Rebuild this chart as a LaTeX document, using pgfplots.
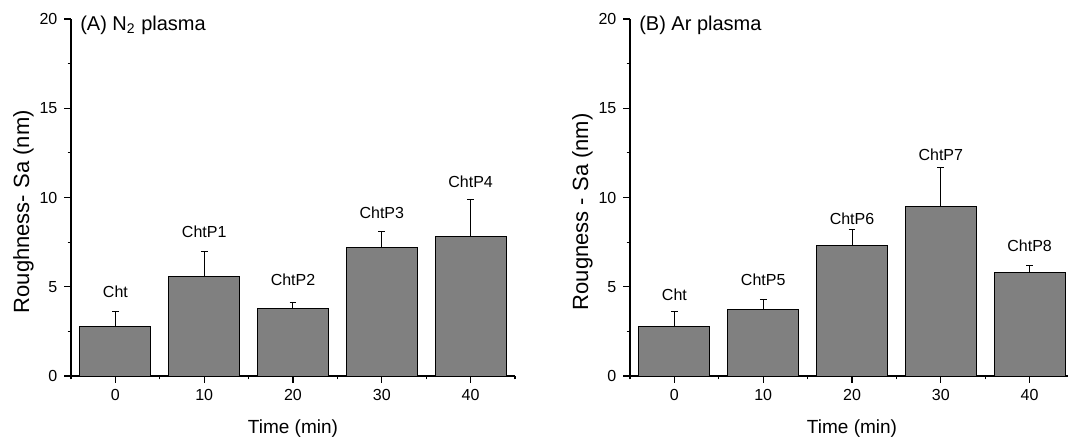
\documentclass[border=0pt]{standalone}
\usepackage{pgfplots}
\pgfplotsset{compat=1.18}
\usepackage{fontspec}
\setmainfont{Liberation Sans}

\pgfplotsset{
 roughax/.style={
  scale only axis, width=222pt, height=178.5pt,
  ymin=0, ymax=20, xmin=-0.5, xmax=4.5,
  axis x line*=bottom, axis y line*=left,
  axis line style={line width=0.6pt,-},
  xtick={0,1,2,3,4}, xticklabels={0,10,20,30,40},
  minor xtick={-0.5,0.5,1.5,2.5,3.5,4.5},
  ytick={0,5,10,15,20}, minor ytick={2.5,7.5,12.5,17.5},
  tick align=outside, major tick length=3.3pt, minor tick length=1.7pt,
  every tick/.style={black, line width=0.6pt},
  tick label style={font=\fontsize{8}{9.6}\selectfont},
  /pgf/number format/assume math mode=true,
  ybar, bar width=0.8, clip=false,
  xlabel={Time (min)},
  xlabel style={at={(axis description cs:0.5,-0.148)},anchor=center,font=\fontsize{9.5}{11}\selectfont},
  ylabel style={at={(axis description cs:-0.107,0.46)},anchor=center,font=\fontsize{11}{13}\selectfont},
 },
 barstyle/.style={fill=gray, draw=black, line width=0.5pt,
  error bars/.cd, y dir=plus, y explicit,
  error mark=|,
  error bar style={line width=0.5pt, black},
  error mark options={mark size=1.7pt, line width=0.5pt, black}},
}
\tikzset{lab/.style={font=\fontsize{8}{9.6}\selectfont},
 ttl/.style={anchor=west,inner sep=0pt,font=\fontsize{10}{12}\selectfont}}

\begin{document}
\begin{tikzpicture}
\useasboundingbox (0,0) rectangle (534pt,220.5pt);
\begin{axis}[roughax, at={(35.5pt,32.5pt)}, anchor=south west,
  ylabel={Roughness- Sa (nm)}]
\addplot[barstyle] coordinates {
 (0,2.8) +- (0,0.8)
 (1,5.6) +- (0,1.4)
 (2,3.8) +- (0,0.3)
 (3,7.2) +- (0,0.9)
 (4,7.8) +- (0,2.1)
};
\node[lab] at (axis cs:0,4.7) {Cht};
\node[lab] at (axis cs:1,8.07) {ChtP1};
\node[lab] at (axis cs:2,5.4) {ChtP2};
\node[lab] at (axis cs:3,9.15) {ChtP3};
\node[lab] at (axis cs:4,10.9) {ChtP4};
\node[ttl] at (rel axis cs:0.02,0.983) {(A) N\textsubscript{2} plasma};
\end{axis}
\begin{axis}[roughax, at={(315pt,32.5pt)}, anchor=south west,
  ylabel={Rougness - Sa (nm)}]
\addplot[barstyle] coordinates {
 (0,2.8) +- (0,0.8)
 (1,3.7) +- (0,0.6)
 (2,7.3) +- (0,0.9)
 (3,9.5) +- (0,2.2)
 (4,5.8) +- (0,0.4)
};
\node[lab] at (axis cs:0,4.54) {Cht};
\node[lab] at (axis cs:1,5.38) {ChtP5};
\node[lab] at (axis cs:2,8.83) {ChtP6};
\node[lab] at (axis cs:3,12.4) {ChtP7};
\node[lab] at (axis cs:4,7.28) {ChtP8};
\node[ttl] at (rel axis cs:0.02,0.983) {(B) Ar plasma};
\end{axis}
\end{tikzpicture}
\end{document}
